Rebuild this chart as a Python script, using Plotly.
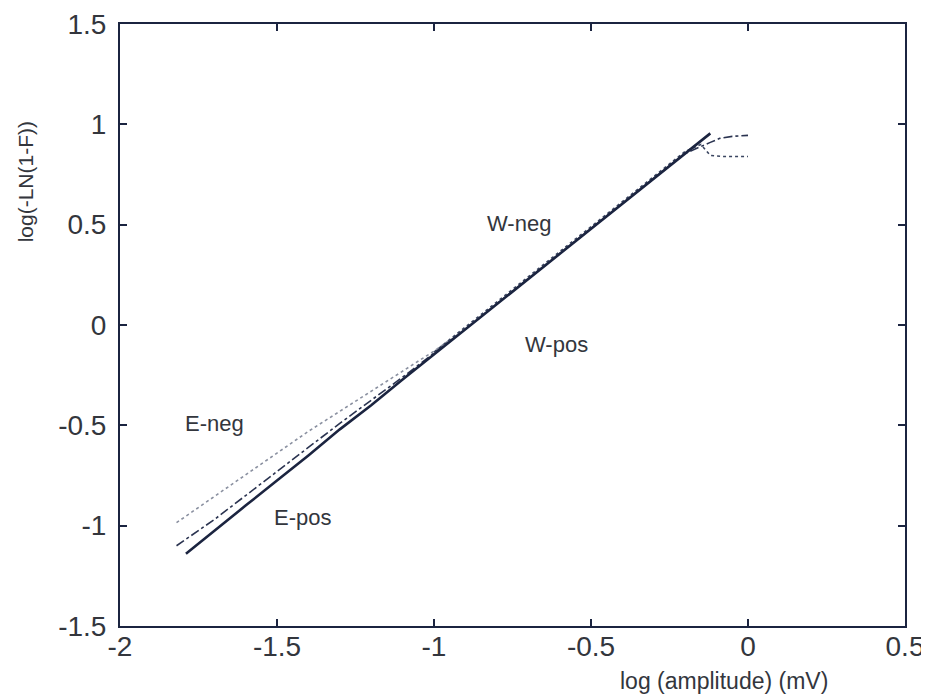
import plotly.graph_objects as go

# ---- data ----
e_pos_x = [-1.79, -1.70, -1.60, -1.50, -1.40, -1.30, -1.20, -1.10, -1.00, -0.90,
           -0.80, -0.70, -0.60, -0.50, -0.40, -0.30, -0.20, -0.12]
e_pos_y = [-1.14, -1.025, -0.90, -0.775, -0.65, -0.52, -0.40, -0.272, -0.147, -0.02,
           0.104, 0.229, 0.355, 0.48, 0.606, 0.731, 0.856, 0.955]

e_neg_x = [-1.82, -1.70, -1.60, -1.50, -1.40, -1.30, -1.20, -1.10, -1.00, -0.95]
e_neg_y = [-0.985, -0.855, -0.745, -0.635, -0.53, -0.43, -0.33, -0.23, -0.13, -0.075]

w_pos_x = [-1.82, -1.70, -1.60, -1.50, -1.40, -1.30, -1.20, -1.10, -1.00, -0.90,
           -0.80, -0.70, -0.60, -0.50, -0.40, -0.30, -0.20, -0.12, -0.09, -0.05, 0.0]
w_pos_y = [-1.10, -0.97, -0.85, -0.73, -0.61, -0.49, -0.375, -0.26, -0.14, -0.02,
           0.105, 0.23, 0.355, 0.48, 0.605, 0.73, 0.855, 0.91, 0.93, 0.94, 0.945]

w_neg_x = [-1.00, -0.90, -0.80, -0.70, -0.60, -0.50, -0.40, -0.30, -0.20, -0.15,
           -0.12, -0.08, -0.04, 0.0]
w_neg_y = [-0.135, -0.01, 0.115, 0.24, 0.365, 0.49, 0.615, 0.74, 0.865, 0.90,
           0.845, 0.84, 0.84, 0.84]

x_ticks = [-2, -1.5, -1, -0.5, 0, 0.5]
x_tick_labels = ["-2", "-1.5", "-1", "-0.5", "0", "0.5"]
y_ticks = [-1.5, -1, -0.5, 0, 0.5, 1, 1.5]
y_tick_labels = ["-1.5", "-1", "-0.5", "0", "0.5", "1", "1.5"]

labels = ["W-neg", "W-pos", "E-neg", "E-pos"]
label_x = [-0.73, -0.61, -1.70, -1.42]
label_y = [0.505, -0.095, -0.49, -0.96]

ink = "#1b2440"
text_col = "#33363d"
font_family = "Liberation Sans, Arial, sans-serif"

fig = go.Figure()
fig.add_trace(go.Scatter(x=e_neg_x, y=e_neg_y, mode="lines", name="E-neg",
                         line=dict(color="#8a90a0", width=1.6, dash="dot")))
fig.add_trace(go.Scatter(x=w_neg_x, y=w_neg_y, mode="lines", name="W-neg",
                         line=dict(color="#3a4560", width=1.6, dash="dot")))
fig.add_trace(go.Scatter(x=w_pos_x, y=w_pos_y, mode="lines", name="W-pos",
                         line=dict(color="#2a3350", width=1.6, dash="dashdot")))
fig.add_trace(go.Scatter(x=e_pos_x, y=e_pos_y, mode="lines", name="E-pos",
                         line=dict(color=ink, width=2.6)))

for t, lx, ly in zip(labels, label_x, label_y):
    fig.add_annotation(x=lx, y=ly, text=t, showarrow=False,
                       font=dict(family=font_family, size=22, color=text_col))

fig.add_annotation(xref="paper", yref="paper", x=0.77, y=-0.091, text="log (amplitude) (mV)",
                   showarrow=False, xanchor="center", yanchor="middle",
                   font=dict(family=font_family, size=23, color=text_col))
fig.add_annotation(xref="paper", yref="paper", x=-0.121, y=0.737, text="log(-LN(1-F))",
                   showarrow=False, textangle=-90, xanchor="center", yanchor="middle",
                   font=dict(family=font_family, size=21, color=text_col))

axis_common = dict(showgrid=False, zeroline=False, showline=True, linecolor=ink, linewidth=2,
                   mirror="allticks", ticks="inside", ticklen=7, tickcolor=ink, tickwidth=1.5,
                   automargin=False,
                   tickfont=dict(family=font_family, size=28, color=text_col))

fig.update_xaxes(range=[-2, 0.5], tickvals=x_ticks, ticktext=x_tick_labels,
                 ticklabelstandoff=-6, **axis_common)
fig.update_yaxes(range=[-1.5, 1.5], tickvals=y_ticks, ticktext=y_tick_labels,
                 ticklabelstandoff=6, **axis_common)

# page body has an 8px margin, so the figure is sized to fit inside the 929x699 window
fig.update_layout(width=921, height=691, margin=dict(l=112, r=24, t=16, b=73),
                  paper_bgcolor="white", plot_bgcolor="white", showlegend=False)

fig.write_html("out.html")
